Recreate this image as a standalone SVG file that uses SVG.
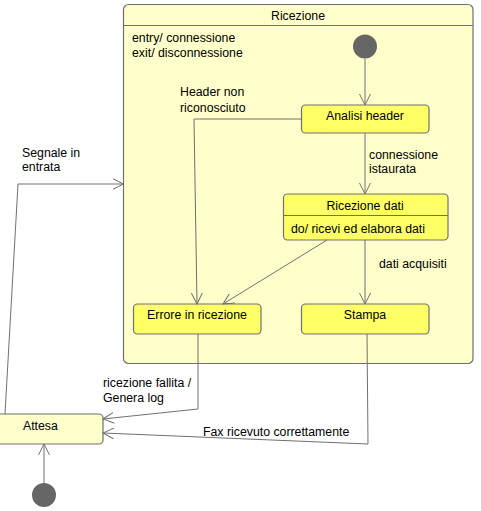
<svg xmlns="http://www.w3.org/2000/svg" width="481" height="511" viewBox="0 0 481 511">
<style>
.box{stroke:#707070;stroke-width:1.2}
.comp{fill:#FFFFCC}
.st{fill:#FFFF66}
.pale{fill:#FFFFCC}
text{font-family:"Liberation Sans",Arial,sans-serif;font-size:12.3px;fill:#000}
.c{text-anchor:middle}
.edge{fill:none;stroke:#707070;stroke-width:1}
.init{fill:#666666}
</style>
<defs>
<marker id="arr" viewBox="0 0 12 12" refX="11" refY="6" markerWidth="12" markerHeight="12" markerUnits="userSpaceOnUse" orient="auto">
<path d="M0,0.5 L11,6 L0,11.5" fill="none" stroke="#707070" stroke-width="1"/>
</marker>
</defs>
<rect width="481" height="511" fill="#FFFFFF"/>
<g id="ricezione">
<rect class="box comp" x="123.5" y="4.5" width="349.5" height="359" rx="5"/>
<line class="box" x1="123.5" y1="25.5" x2="473" y2="25.5"/>
<text class="c" x="298" y="19.5">Ricezione</text>
<text x="132" y="41.5">entry/ connessione</text>
<text x="132" y="56.5">exit/ disconnessione</text>
</g>
<g id="init1"><circle class="init" cx="365" cy="46.5" r="12"/></g>
<g id="analisi">
<rect class="box st" x="301.5" y="105" width="127.5" height="28" rx="4"/>
<text class="c" x="365" y="120">Analisi header</text>
</g>
<g id="ricezione-dati">
<rect class="box st" x="283.5" y="194" width="164.5" height="46" rx="4"/>
<line class="box" x1="283.5" y1="215.5" x2="448" y2="215.5"/>
<text class="c" x="365" y="209.5">Ricezione dati</text>
<text x="291" y="232.5">do/ ricevi ed elabora dati</text>
</g>
<g id="errore">
<rect class="box st" x="133.5" y="304" width="127.5" height="30" rx="4"/>
<text class="c" x="197" y="318.5">Errore in ricezione</text>
</g>
<g id="stampa">
<rect class="box st" x="301.5" y="304" width="127.5" height="30" rx="4"/>
<text class="c" x="365" y="318.5">Stampa</text>
</g>
<g id="attesa">
<rect class="box pale" x="-5" y="414" width="108" height="30" rx="4"/>
<text x="23" y="429.5">Attesa</text>
</g>
<g id="init2"><circle class="init" cx="44" cy="495" r="12"/></g>
<g id="connectors">
<line class="edge" x1="365" y1="58.5" x2="365" y2="105" marker-end="url(#arr)"/>
<line class="edge" x1="365" y1="133" x2="365" y2="194" marker-end="url(#arr)"/>
<line class="edge" x1="365" y1="240" x2="365" y2="304" marker-end="url(#arr)"/>
<polyline class="edge" points="301.5,119 194,119 197,304" marker-end="url(#arr)"/>
<line class="edge" x1="327" y1="240" x2="223" y2="304" marker-end="url(#arr)"/>
<polyline class="edge" points="5,414 18,184 123.5,184" marker-end="url(#arr)"/>
<polyline class="edge" points="198,334 198,409 103,419" marker-end="url(#arr)"/>
<polyline class="edge" points="367,334 368,444 103,433" marker-end="url(#arr)"/>
<line class="edge" x1="44" y1="483" x2="44" y2="444" marker-end="url(#arr)"/>
<text x="180" y="95.5">Header non</text>
<text x="180" y="111.5">riconosciuto</text>
<text x="369" y="158.5">connessione</text>
<text x="369" y="173">istaurata</text>
<text x="379" y="267.5">dati acquisiti</text>
<text x="22" y="156.5">Segnale in</text>
<text x="22" y="171">entrata</text>
<text x="103" y="386.5">ricezione fallita /</text>
<text x="103" y="401.5">Genera log</text>
<text x="203" y="435.5">Fax ricevuto correttamente</text>
</g>
</svg>
